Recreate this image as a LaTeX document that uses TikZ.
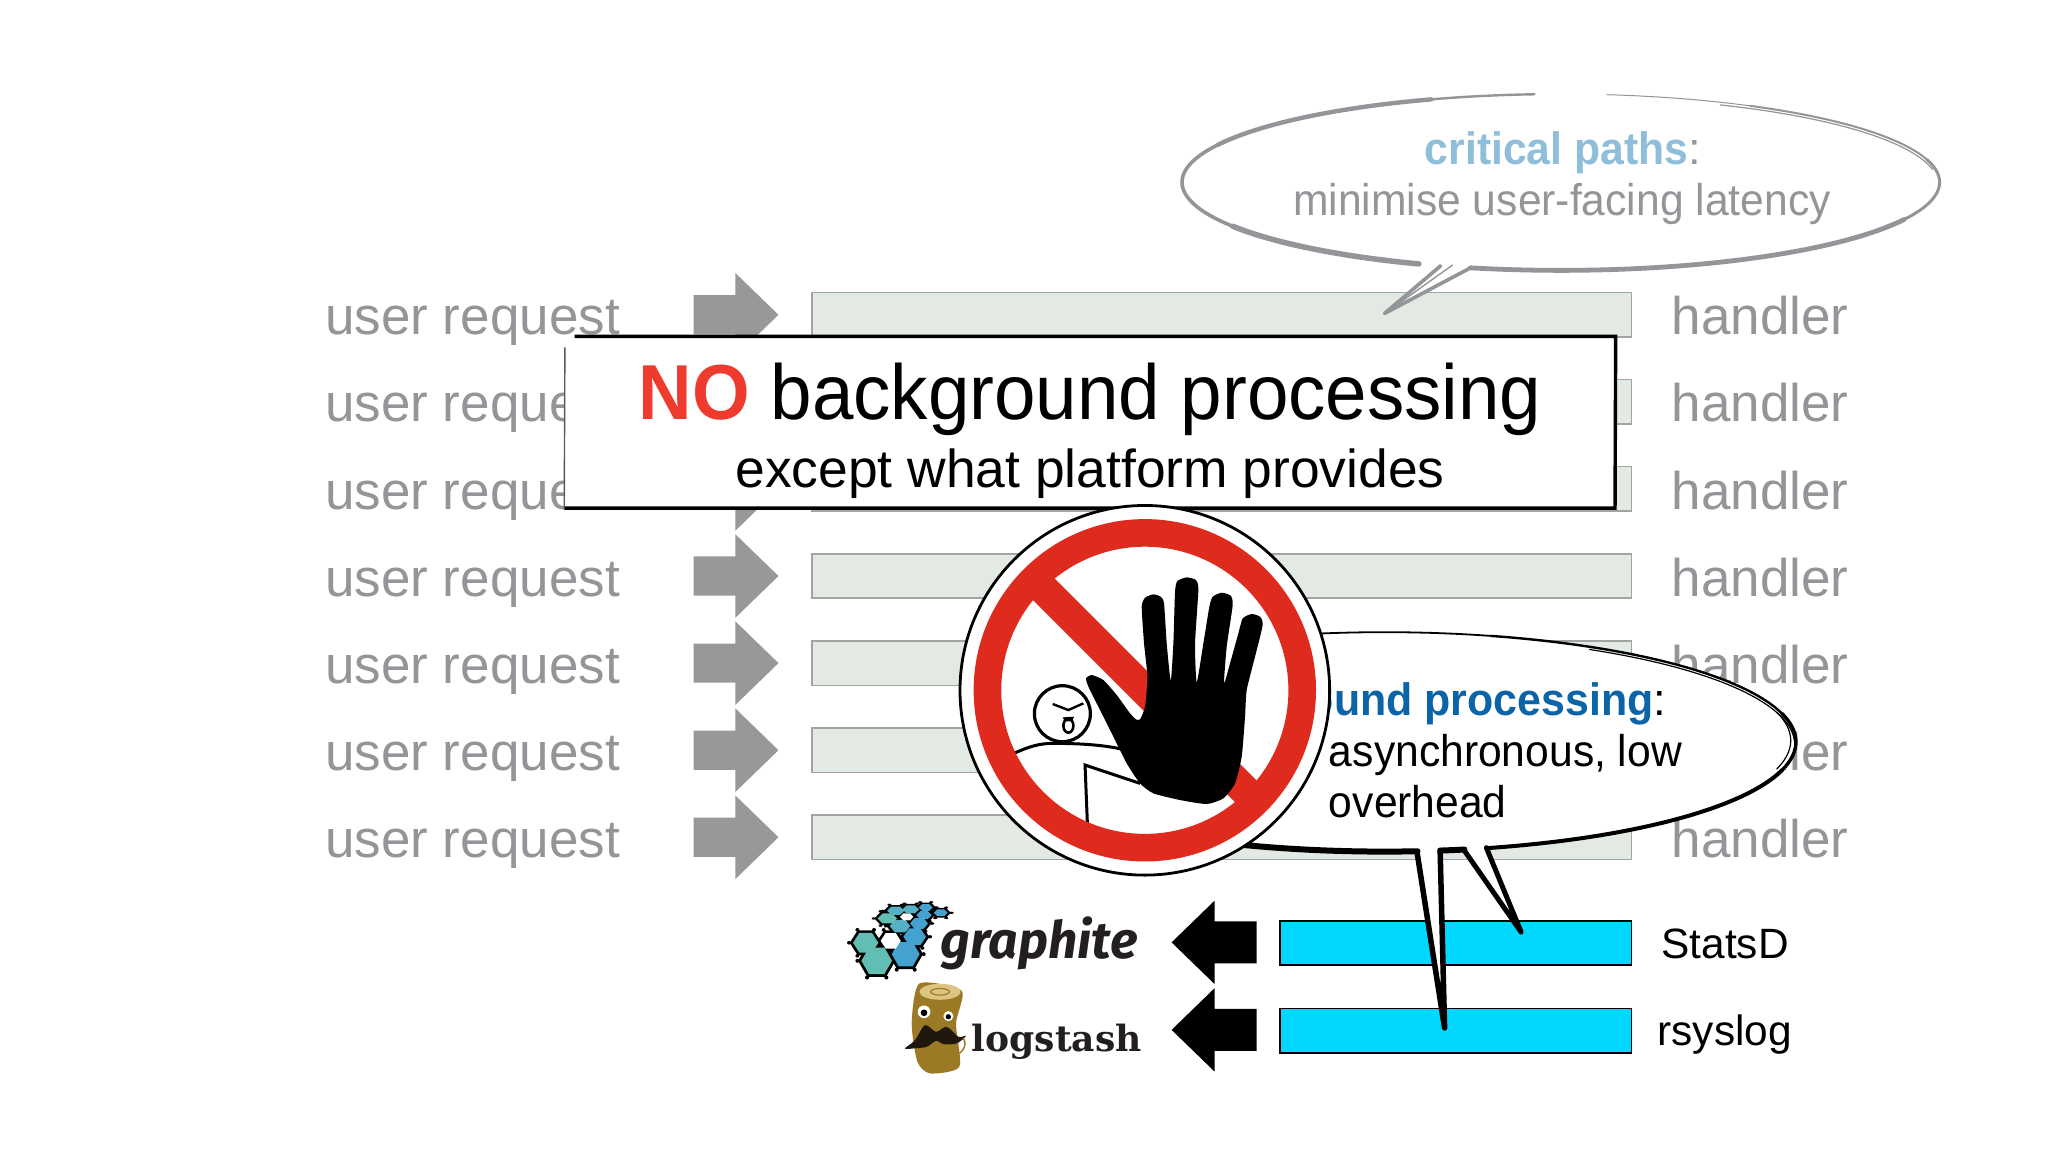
\documentclass[tikz,border=0pt]{standalone}
\usepackage{fontspec}
\usepackage{graphicx}
\usetikzlibrary{calc}
\setmainfont{Liberation Sans}
\newfontfamily\graphfont{Fira Sans}
\newfontfamily\logofont{DejaVu Serif}
\definecolor{gtext}{HTML}{939598}
\definecolor{garrow}{HTML}{98989A}
\definecolor{gbar}{HTML}{E3EAE3}
\definecolor{gedge}{HTML}{A0A4A2}
\definecolor{lblue}{HTML}{8FBEDB}
\definecolor{dblue}{HTML}{0B64A8}
\definecolor{nored}{HTML}{EE3B2E}
\definecolor{signred}{HTML}{DF2A1E}
\definecolor{cyanbar}{HTML}{00D8FF}
\definecolor{logbrown}{HTML}{9A7A24}
\definecolor{logtop}{HTML}{DCC481}
\definecolor{mst}{HTML}{20170E}
\definecolor{inkdk}{HTML}{231F20}
\definecolor{hexT}{HTML}{62BDB2}
\definecolor{hexM}{HTML}{55B0C4}
\definecolor{hexB}{HTML}{45A2CF}
\newcommand\fz[1]{\fontsize{#1}{#1}\selectfont}
\newcommand\ellarc[6]{plot[domain=#5:#6,samples=90,variable=\ang] ({#1+#3*cos(\ang)},{#2+#4*sin(\ang)})}
\newcommand\bubA[2]{\ellarc{1195}{139.5}{290}{67.5}{#1}{#2}}
\newcommand\bubB[2]{\ellarc{1060}{568}{315}{84}{#1}{#2}}
\newcommand\hexk[4]{% x y r squash: black lattice piece
  \begin{scope}[shift={(#1,#2)},yscale=#4]
  \fill[black] (0:{#3+10}) -- (60:{#3+10}) -- (120:{#3+10}) -- (180:{#3+10}) -- (240:{#3+10}) -- (300:{#3+10}) -- cycle;
  \foreach \va in {0,60,...,300}{\fill[black] (\va:{#3+12}) circle (6);}
  \end{scope}}
\newcommand\hexc[5]{% x y r squash colour
  \begin{scope}[shift={(#1,#2)},yscale=#4]
  \fill[#5] (0:#3) -- (60:#3) -- (120:#3) -- (180:#3) -- (240:#3) -- (300:#3) -- cycle;
  \end{scope}}
\tikzset{
  lab/.style={anchor=base west,inner sep=0pt,outer sep=0pt},
  greytext/.style={lab,text=gtext,font=\fz{53}},
  greenbar/.style={fill=gbar,draw=gedge,line width=1.5pt},
  bluebar/.style={fill=cyanbar,draw=black,line width=1.6pt},
  sketchA/.style={draw=gtext,line join=round,line cap=round},
  sketchB/.style={draw=black,line join=round,line cap=round},
}
\begin{document}
\begin{tikzpicture}[x=1.30612pt,y=-1.30612pt]
\useasboundingbox (0,0) rectangle (1568,882);
\fill[white] (0,0) rectangle (1568,882);
% rows of requests, arrows, bars, handlers
\foreach \i in {0,...,6}{
  \pgfmathsetmacro\cy{241+66.67*\i}
  \node[greytext] (req\i) at (249,{\cy+15.4}) {user request};
  \node[greytext] (hnd\i) at (1280,{\cy+15.4}) {handler};
  \fill[garrow] (531,{\cy-15}) -- (563,{\cy-15}) -- (563,{\cy-32}) -- (596,\cy) -- (563,{\cy+32}) -- (563,{\cy+15}) -- (531,{\cy+15}) -- cycle;
  \path[greenbar] (621.5,{\cy-17}) rectangle (1249,{\cy+17});
}
% critical paths bubble
\fill[white] \bubA{108.5}{463.8} -- (1060,240) -- cycle;
\draw[sketchA,line width=5.5pt] \bubA{112}{150};
\draw[sketchA,line width=3.6pt] \bubA{150}{205};
\draw[sketchA,line width=4.4pt] \bubA{205}{250};
\draw[sketchA,line width=2.4pt] \bubA{250}{266};
\draw[sketchA,line width=1pt] \bubA{277}{300};
\draw[sketchA,line width=2pt] \bubA{300}{345};
\draw[sketchA,line width=1.2pt] \ellarc{1195}{141.5}{289}{67.5}{295}{350};
\draw[sketchA,line width=3pt] \bubA{345}{385};
\draw[sketchA,line width=4.8pt] \bubA{385}{463.8};
\draw[sketchA,line width=3.6pt] (1103,203.5) -- (1060,240) -- (1126,205);
\draw[sketchA,line width=1.4pt] (1112,203) -- (1063,238);
\node[lab,font=\fz{45.4}\bfseries,text=lblue] (critA) at (1091,126) {\scalebox{.94}[1]{critical paths}};
\node[lab,font=\fz{45.4},text=gtext,anchor=base west] (critB) at (critA.base east) {:};
\node[lab,font=\fz{44.4},text=gtext] (critC) at (990,165) {\scalebox{.96}[1]{minimise user-facing latency}};
% NO box
\fill[white] (432,257) rectangle (1237,389);
\draw[black,line width=3.4pt] (440,257.5) -- (1237,257.5) -- (1236.5,389) -- (432,389);
\draw[black!65,line width=1.4pt] (432,389) -- (432.5,266);
\node[lab,font=\fz{78}\bfseries,text=nored] (noA) at (489,321) {\scalebox{.95}[1]{NO}};
\node[lab,font=\fz{78},text=black] (noB) at (590,321) {\scalebox{.956}[1]{background processing}};
\node[lab,font=\fz{53.4},text=black] (noC) at (563,373.5) {except what platform provides};
% platform bars
\path[bluebar] (980,705) rectangle (1249,739);
\path[bluebar] (980,772) rectangle (1249,806);
\node[lab,font=\fz{42.4}] (statsd) at (1272,733.5) {StatsD};
\node[lab,font=\fz{42.4}] (rsys) at (1269,800.5) {rsyslog};
\foreach \y in {721.5,788.5}{
  \fill[black] (962,{\y-16}) -- (930,{\y-16}) -- (930,{\y-32}) -- (897,\y) -- (930,{\y+32}) -- (930,{\y+16}) -- (962,{\y+16}) -- cycle;
}
% graphite logo
\begin{scope}[shift={(635.5,681.5)},x=.3333pt,y=-.3333pt]
  \begin{scope}[xshift=-8pt/3]
  \hexk{148}{212}{46}{1}\hexk{235}{192}{42}{1}\hexk{115}{158}{38}{.9}\hexk{190}{152}{30}{.9}
  \hexk{262}{140}{34}{.85}\hexk{218}{108}{31}{.7}\hexk{275}{100}{27}{.7}\hexk{180}{85}{29}{.6}
  \hexk{238}{80}{20}{.6}\hexk{290}{75}{23}{.6}\hexk{205}{62}{26}{.55}\hexk{250}{58}{25}{.55}
  \hexk{295}{52}{21}{.55}\hexk{340}{68}{21}{.55}
  \hexc{148}{212}{46}{1}{hexT}\hexc{235}{192}{42}{1}{hexB}\hexc{115}{158}{38}{.9}{hexT}\hexc{190}{152}{30}{.9}{white}
  \hexc{262}{140}{34}{.85}{hexB}\hexc{218}{108}{31}{.7}{hexM}\hexc{275}{100}{27}{.7}{hexB}\hexc{180}{85}{29}{.6}{hexT}
  \hexc{238}{80}{20}{.6}{white}\hexc{290}{75}{23}{.6}{hexB}\hexc{205}{62}{26}{.55}{hexM}\hexc{250}{58}{25}{.55}{hexM}
  \hexc{295}{52}{21}{.55}{hexB}\hexc{340}{68}{21}{.55}{hexB}
  \end{scope}
  % log mascot
  \fill[logbrown] plot[smooth cycle,tension=.4] coordinates {(268,280) (395,302) (378,400) (388,530) (300,550) (262,515) (245,400)};
  \fill[logtop] (330,305) ellipse [x radius=62,y radius=24];
  \draw[logbrown,line width=1.2pt] (330,305) ellipse [x radius=28,y radius=10];
  \fill[white] (282,365) circle (19);
  \fill[black] (282,368) circle (10);
  \fill[white] (355,378) circle (15);
  \fill[black] (355,380) circle (8);
  \fill[mst] plot[smooth cycle,tension=.5] coordinates {(225,475) (255,450) (285,405) (318,425) (350,410) (385,440) (408,437) (380,460) (340,462) (318,452) (290,470) (250,475)};
  \draw[logbrown,line width=1.5pt] (400,445) .. controls (412,465) and (400,480) .. (388,490);
\end{scope}
\node[lab,font=\fz{56}\graphfont\bfseries\itshape,text=inkdk] (graph) at (720,734) {\resizebox{197pt}{!}{graphite}};
\node[lab,font=\fz{38}\logofont\bfseries,text=inkdk] (lstash) at (744,805) {\resizebox{170pt}{!}{logstash}};
% background processing bubble
\fill[white] \bubB{85.4}{435.6} -- (1164.6,713.6) -- plot[domain=78.8:82.2,samples=8,variable=\ang] ({1060+315*cos(\ang)},{568+84*sin(\ang)}) -- (1106,787) -- cycle;
\draw[sketchB,line width=6pt] \bubB{85.4}{150};
\draw[sketchB,line width=1.8pt] \bubB{230}{285};
\draw[sketchB,line width=2.4pt] \bubB{285}{345};
\draw[sketchB,line width=1.2pt] \ellarc{1060}{570}{314}{84}{300}{358};
\draw[sketchB,line width=3.4pt] \bubB{345}{375};
\draw[sketchB,line width=1.2pt] \ellarc{1058}{567}{313}{84}{345}{375};
\draw[sketchB,line width=4pt] \bubB{375}{435.6};
\draw[sketchB,line width=6pt] \bubB{78.8}{82.2};
\draw[sketchB,line width=5.5pt] (1085,653) -- (1106,787) -- (1102.6,651);
\draw[sketchB,line width=5pt] (1121,651) -- (1164.6,713.6) -- (1138,649);
\node[lab,font=\fz{45.4}\bfseries,text=dblue,anchor=base east] (bgA) at (1266,547.5) {\scalebox{.945}[1]{background processing}};
\node[lab,font=\fz{45.4},anchor=base west] (bgB) at (bgA.base east) {:};
\node[lab,font=\fz{44.4}] (bgC) at (1017.5,587) {\scalebox{.96}[1]{asynchronous, low}};
\node[lab,font=\fz{44.4}] (bgD) at (1017.5,626) {\scalebox{.96}[1]{overhead}};
% stop sign
\fill[white] (876.5,528.5) circle (141.5);
\draw[black,line width=2.8pt] (876.5,528.5) circle (141.5);
\begin{scope}[shift={(719.73,382.85)},x=.3333pt,y=-.3333pt]
  \draw[black,line width=3.2pt] (367,641) circle (84);
  \draw[black,line width=2.4pt] (338,612) -- (385,630) -- (430,610);
  \draw[black,line width=2.6pt] (385,677) ellipse [x radius=15,y radius=21];
  \fill[black] (368,652) -- (402,650) -- (396,664) -- (374,664) -- cycle;
  \draw[black,line width=3pt] (222,760) .. controls (270,738) and (300,730) .. (340,730) .. controls (420,730) and (500,735) .. (555,750);
  \draw[black,line width=3pt] (442,970) -- (435,795) -- (600,850);
\end{scope}
\begin{scope}
\clip (876.5,528.5) circle (120);
\fill[signred] ($(876.5,528.5)+(-120,-120)+(8.3,-8.3)$) -- ($(876.5,528.5)+(120,120)+(8.3,-8.3)$) -- ($(876.5,528.5)+(120,120)+(-8.3,8.3)$) -- ($(876.5,528.5)+(-120,-120)+(-8.3,8.3)$) -- cycle;
\end{scope}
\draw[signred,line width=27.6pt] (876.5,528.5) circle (120.5);
\begin{scope}[shift={(719.73,382.85)},x=.3333pt,y=-.3333pt]
  \fill[black] plot[smooth cycle,tension=.35] coordinates {
    (885,850) (905,770) (915,650) (920,570) (945,470) (968,375) (960,350) (935,342) (908,355) (895,400) (870,490) (852,550)
    (860,440) (878,315) (872,287) (845,278) (818,290) (808,320) (790,430) (770,547)
    (765,430) (775,270) (768,240) (740,232) (712,243) (705,275) (700,430) (692,542)
    (680,430) (672,310) (662,290) (640,283) (615,293) (605,320) (612,430) (622,530) (615,620) (600,658) (588,658) (570,640)
    (530,585) (490,540) (455,525) (438,535) (445,560) (480,630) (520,710) (560,790) (600,850) (640,880) (720,900) (800,912) (850,895)};
\end{scope}
\end{tikzpicture}
\end{document}
